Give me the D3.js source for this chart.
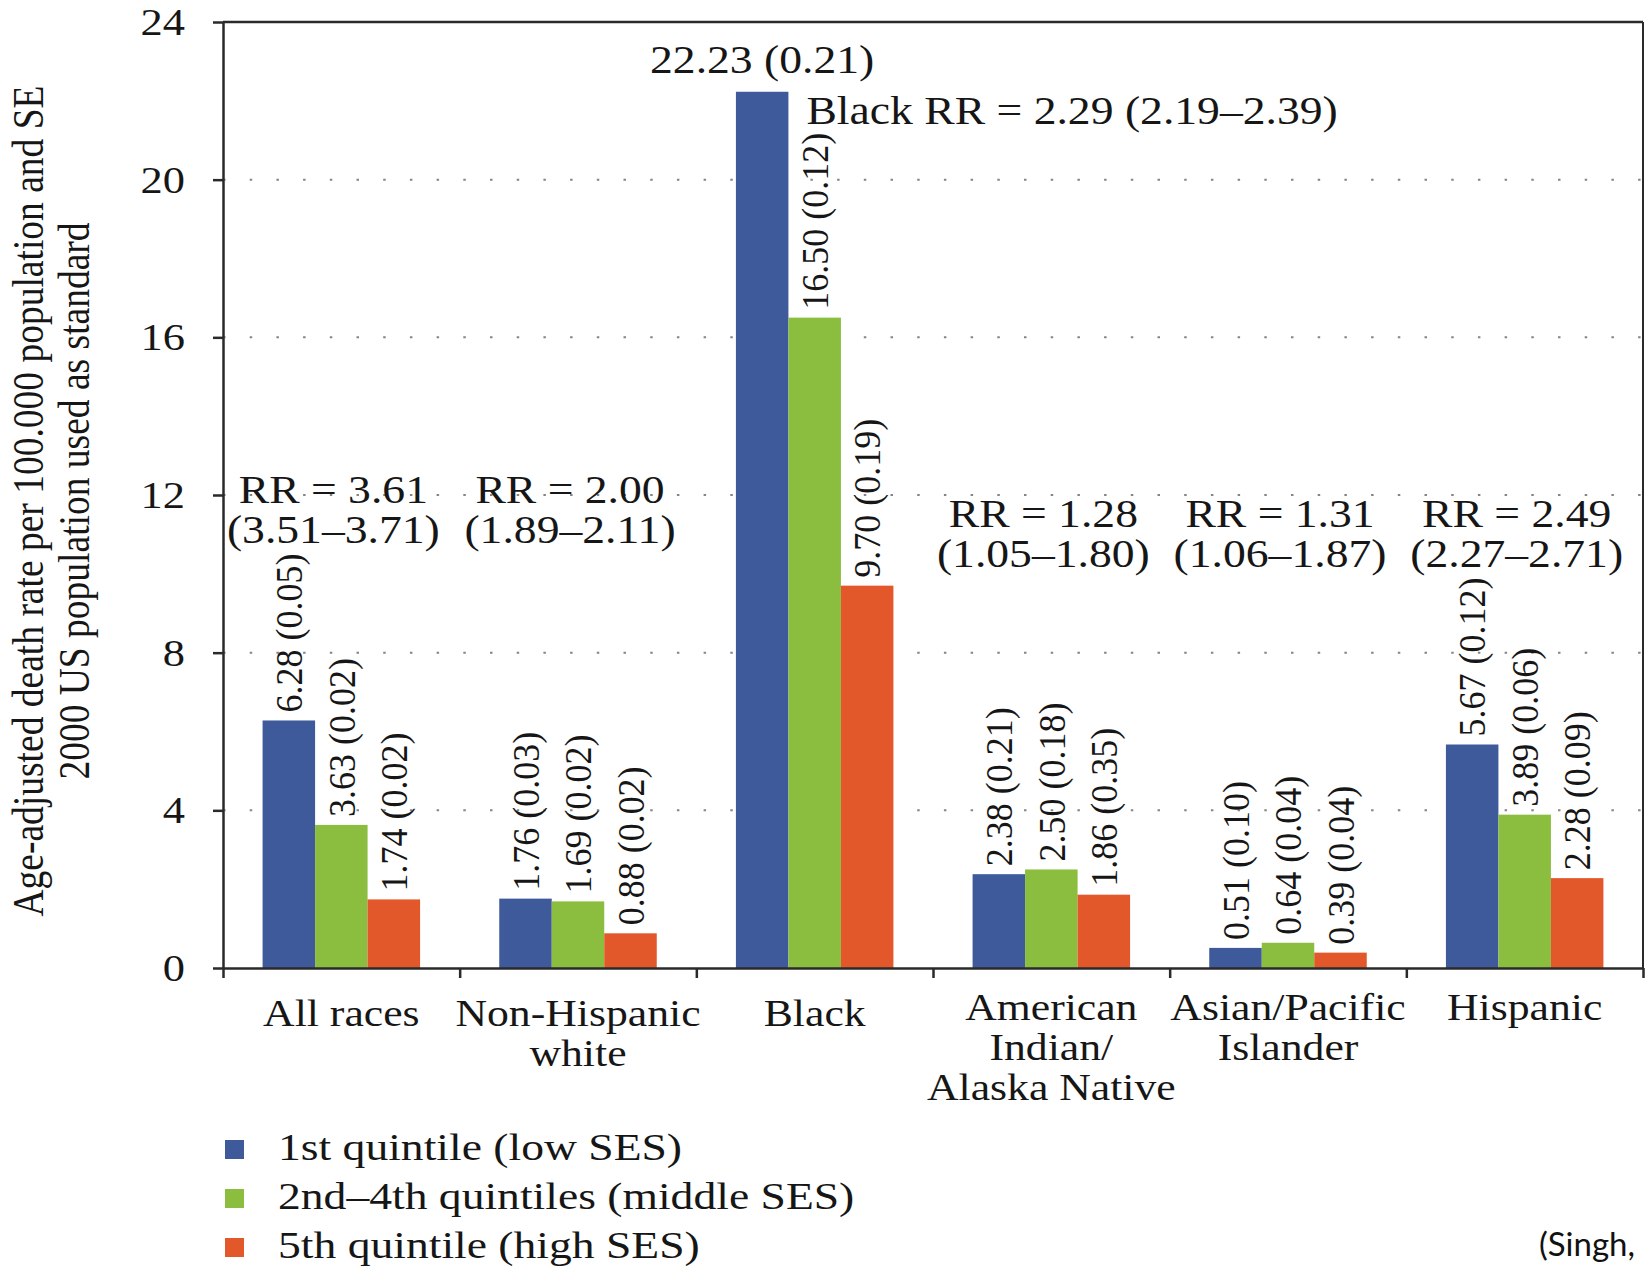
<!DOCTYPE html>
<html>
<head>
<meta charset="utf-8">
<script src="https://cdn.jsdelivr.net/npm/d3@7"></script>
<style>
  html, body { margin: 0; padding: 0; background: #fff; }
  svg { display: block; }
</style>
</head>
<body>
<svg id="chart" width="1645" height="1267"></svg>
<script>
// Categories and their wrapped label lines
const categories = ["All races", "Non-Hispanic white", "Black", "American Indian/Alaska Native", "Asian/Pacific Islander", "Hispanic"];
const categoryLines = [["All races"], ["Non-Hispanic", "white"], ["Black"], ["American", "Indian/", "Alaska Native"], ["Asian/Pacific", "Islander"], ["Hispanic"]];

// Series (SES quintile groups)
const seriesNames = ["1st quintile (low SES)", "2nd\u20134th quintiles (middle SES)", "5th quintile (high SES)"];
const seriesColors = ["#3e5a9b", "#8bbd3f", "#e2582a"];

// Age-adjusted death rates and standard errors
const lowSES  = [6.28, 1.76, 22.23, 2.38, 0.51, 5.67];
const lowSE   = [0.05, 0.03, 0.21, 0.21, 0.10, 0.12];
const midSES  = [3.63, 1.69, 16.50, 2.50, 0.64, 3.89];
const midSE   = [0.02, 0.02, 0.12, 0.18, 0.04, 0.06];
const highSES = [1.74, 0.88, 9.70, 1.86, 0.39, 2.28];
const highSE  = [0.02, 0.02, 0.19, 0.35, 0.04, 0.09];

// Rate ratio annotations per category
const rrText = [
  ["RR = 3.61", "(3.51\u20133.71)"],
  ["RR = 2.00", "(1.89\u20132.11)"],
  ["Black RR = 2.29 (2.19\u20132.39)"],
  ["RR = 1.28", "(1.05\u20131.80)"],
  ["RR = 1.31", "(1.06\u20131.87)"],
  ["RR = 2.49", "(2.27\u20132.71)"]
];

const yTicks = [0, 4, 8, 12, 16, 20, 24];
const yTitle = ["Age-adjusted death rate per 100.000 population and SE", "2000 US population used as standard"];
const sourceNote = "(Singh,";

// ---------------------------------------------------------------
const svg = d3.select("#chart");
const plot = { left: 223, right: 1643, top: 22, bottom: 968 };
const SX = 1.17;           // horizontal widening of the serif face
const ink = "#161616";
const serif = "'Liberation Serif', 'Times New Roman', serif";

const y = d3.scaleLinear().domain([0, 24]).range([plot.bottom, plot.top]);
const x = d3.scaleBand().domain(categories).range([plot.left, plot.right]);
const xs = d3.scaleBand().domain(seriesNames).range([0, x.bandwidth()]).paddingOuter(0.754);
const color = d3.scaleOrdinal().domain(seriesNames).range(seriesColors);
const values = [lowSES, midSES, highSES];
const errors = [lowSE, midSE, highSE];

function hText(g, px, py, str, size, anchor, sx = SX) {
  return g.append("text")
    .attr("transform", `translate(${px},${py}) scale(${sx},1)`)
    .attr("text-anchor", anchor)
    .style("font-family", serif)
    .attr("font-size", size)
    .attr("fill", ink)
    .text(str);
}

// Dotted gridlines
const grid = svg.append("g");
grid.selectAll("line").data(yTicks.filter(t => t > 0 && t < 24)).join("line")
  .attr("x1", plot.left).attr("x2", plot.right)
  .attr("y1", d => y(d)).attr("y2", d => y(d))
  .attr("stroke", "#858585").attr("stroke-width", 2)
  .attr("stroke-dasharray", "2.5 24.2");

// Bars
const bars = categories.flatMap((c, i) => seriesNames.map((s, j) => ({
  c, s, i, j, v: values[j][i], se: errors[j][i]
})));

svg.append("g").selectAll("rect").data(bars).join("rect")
  .attr("x", d => x(d.c) + xs(d.s))
  .attr("y", d => y(d.v))
  .attr("width", xs.bandwidth())
  .attr("height", d => y(0) - y(d.v))
  .attr("fill", d => color(d.s));

// Value (SE) labels, vertical above each bar unless it would run past the top
const vl = svg.append("g");
bars.forEach(d => {
  const cx = x(d.c) + xs(d.s) + xs.bandwidth() / 2;
  const label = `${d.v.toFixed(2)} (${d.se.toFixed(2)})`;
  const t = vl.append("text")
    .attr("transform", `translate(${cx},${y(d.v) - 8}) scale(1.08,1) rotate(-90)`)
    .attr("dy", "0.34em")
    .style("font-family", serif)
    .attr("font-size", 36)
    .attr("fill", ink)
    .text(label);
  const len = t.node().getComputedTextLength();
  if (y(d.v) - 8 - len < plot.top) {
    t.remove();
    hText(vl, cx, y(d.v) - 19, label, 39, "middle");
  }
});

// Frame: top and right
svg.append("line").attr("x1", plot.left).attr("x2", plot.right).attr("y1", plot.top).attr("y2", plot.top)
  .attr("stroke", "#2a2a2a").attr("stroke-width", 2.5);
svg.append("line").attr("x1", plot.right).attr("x2", plot.right).attr("y1", plot.top).attr("y2", plot.bottom)
  .attr("stroke", "#2a2a2a").attr("stroke-width", 2);

// Left axis
const yAxisG = svg.append("g").attr("transform", `translate(${plot.left},0)`)
  .call(d3.axisLeft(y).tickValues(yTicks).tickSize(10).tickSizeOuter(0));
yAxisG.select(".domain").attr("stroke", "#2a2a2a").attr("stroke-width", 2.5);
yAxisG.selectAll(".tick line").attr("stroke", "#2a2a2a").attr("stroke-width", 2.5);
yAxisG.selectAll(".tick text")
  .attr("x", null).attr("dy", "0.33em")
  .attr("transform", `translate(-38,0) scale(${SX},1)`)
  .attr("font-size", 38).style("font-family", serif)
  .attr("fill", ink);

// Bottom axis with ticks at category boundaries
const xb = d3.scaleLinear().domain([0, categories.length]).range([plot.left, plot.right]);
const xAxisG = svg.append("g").attr("transform", `translate(0,${plot.bottom})`)
  .call(d3.axisBottom(xb).tickValues(d3.range(categories.length + 1)).tickFormat("").tickSize(10).tickSizeOuter(0));
xAxisG.select(".domain").attr("stroke", "#2a2a2a").attr("stroke-width", 2.5);
xAxisG.selectAll(".tick line").attr("stroke", "#2a2a2a").attr("stroke-width", 2.5);

// Category labels (the right-hand three sit a little higher)
const cl = svg.append("g");
categories.forEach((c, i) => {
  const cx = x(c) + x.bandwidth() / 2;
  const base = i < 3 ? 1026 : 1020;
  categoryLines[i].forEach((ln, k) => hText(cl, cx, base + k * 40, ln, 38, "middle", 1.15));
});

// Rate ratio annotations
const rr = svg.append("g");
categories.forEach((c, i) => {
  const lines = rrText[i];
  if (lines.length === 1) {
    // single-line note placed beside the tallest bar
    const bx = x(c) + xs(seriesNames[0]) + xs.bandwidth();
    hText(rr, bx + 18, y(values[0][i]) + 32, lines[0], 39, "start");
  } else {
    const cx = x(c) + x.bandwidth() / 2 - 8;
    const top = i < 2 ? 503 : 527;
    lines.forEach((ln, k) => hText(rr, cx, top + k * 40, ln, 39, "middle"));
  }
});

// Y-axis title (two rotated lines)
const yt = svg.append("g");
[43, 89].forEach((bx, k) => {
  yt.append("text")
    .attr("transform", `translate(${bx},501) scale(1.16,1) rotate(-90)`)
    .attr("text-anchor", "middle")
    .style("font-family", serif)
    .attr("font-size", 37.5)
    .attr("fill", ink)
    .text(yTitle[k]);
});

// Legend
const lg = svg.append("g");
seriesNames.forEach((s, j) => {
  const base = 1160 + j * 49;
  lg.append("rect").attr("x", 225).attr("y", base - 20).attr("width", 19).attr("height", 19).attr("fill", color(s));
  hText(lg, 278, base, s, 38, "start", 1.2);
});

// Source note
svg.append("text")
  .attr("x", 1539).attr("y", 1256)
  .style("font-family", "Lato, 'Open Sans', sans-serif")
  .attr("font-size", 33)
  .attr("fill", "#111")
  .text(sourceNote);
</script>
</body>
</html>
